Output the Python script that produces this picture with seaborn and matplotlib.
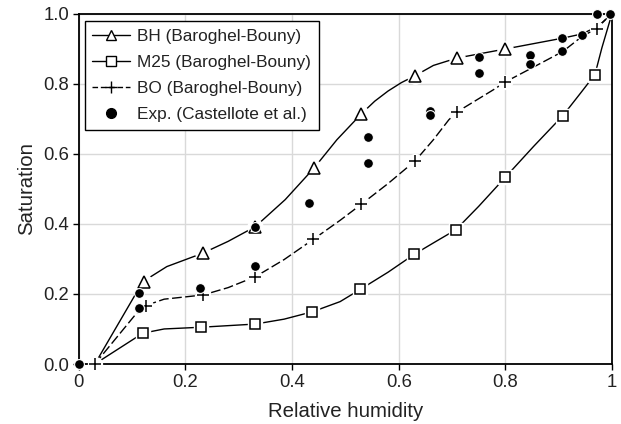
import numpy as np
import pandas as pd
import matplotlib
matplotlib.use("Agg")
import matplotlib.pyplot as plt
from matplotlib.lines import Line2D
import seaborn as sns

# -----------------------------
# Data
# -----------------------------
# smooth model curves (path points)
bh_line_x = [0.03, 0.12, 0.165, 0.232, 0.28, 0.331, 0.387, 0.441, 0.484, 0.53, 0.555, 0.58, 0.605, 0.631, 0.665, 0.709, 0.80, 0.908, 0.944, 0.975, 1.0]
bh_line_y = [0.0, 0.235, 0.278, 0.316, 0.35, 0.392, 0.469, 0.559, 0.64, 0.714, 0.75, 0.779, 0.803, 0.823, 0.852, 0.873, 0.899, 0.93, 0.942, 0.965, 1.0]

m25_line_x = [0.03, 0.12, 0.16, 0.23, 0.331, 0.385, 0.438, 0.49, 0.528, 0.58, 0.629, 0.67, 0.707, 0.75, 0.80, 0.853, 0.908, 0.941, 0.968, 0.981, 1.0]
m25_line_y = [0.0, 0.088, 0.100, 0.105, 0.114, 0.128, 0.149, 0.178, 0.213, 0.262, 0.313, 0.350, 0.383, 0.450, 0.533, 0.621, 0.709, 0.773, 0.826, 0.902, 1.0]

bo_line_x = [0.03, 0.118, 0.16, 0.233, 0.28, 0.331, 0.385, 0.44, 0.49, 0.53, 0.58, 0.631, 0.665, 0.694, 0.709, 0.778, 0.80, 0.85, 0.908, 0.944, 0.971, 0.988, 1.0]
bo_line_y = [0.0, 0.163, 0.185, 0.197, 0.218, 0.249, 0.298, 0.356, 0.41, 0.456, 0.515, 0.58, 0.64, 0.697, 0.719, 0.783, 0.805, 0.845, 0.892, 0.935, 0.957, 0.983, 1.0]

# marker positions
bh_mark_x = [0.122, 0.232, 0.331, 0.441, 0.530, 0.631, 0.709, 0.80]
bh_mark_y = [0.235, 0.316, 0.392, 0.559, 0.714, 0.823, 0.873, 0.899]

m25_mark_x = [0.120, 0.230, 0.331, 0.438, 0.528, 0.629, 0.707, 0.80, 0.908, 0.968]
m25_mark_y = [0.088, 0.105, 0.114, 0.149, 0.213, 0.313, 0.383, 0.533, 0.709, 0.826]

bo_mark_x = [0.031, 0.125, 0.233, 0.331, 0.44, 0.53, 0.631, 0.709, 0.80, 0.971]
bo_mark_y = [0.0, 0.166, 0.197, 0.249, 0.356, 0.456, 0.58, 0.719, 0.805, 0.957]

# experimental data (Castellote et al.)
exp_x = [0.0, 0.113, 0.113, 0.227, 0.331, 0.331, 0.431, 0.542, 0.542, 0.658, 0.658,
         0.751, 0.751, 0.847, 0.847, 0.907, 0.907, 0.944, 0.972, 0.997]
exp_y = [0.0, 0.204, 0.159, 0.216, 0.281, 0.392, 0.459, 0.649, 0.573, 0.722, 0.710,
         0.876, 0.829, 0.881, 0.857, 0.930, 0.892, 0.940, 1.0, 1.0]

x_ticks = [0, 0.2, 0.4, 0.6, 0.8, 1.0]
x_tick_labels = ["0", "0.2", "0.4", "0.6", "0.8", "1"]
y_ticks = [0.0, 0.2, 0.4, 0.6, 0.8, 1.0]
y_tick_labels = ["0.0", "0.2", "0.4", "0.6", "0.8", "1.0"]

labels = ["BH (Baroghel-Bouny)", "M25 (Baroghel-Bouny)", "BO (Baroghel-Bouny)", "Exp. (Castellote et al.)"]

# -----------------------------
# Style
# -----------------------------
sns.set_style("whitegrid")
plt.rcParams['font.family'] = ['Liberation Sans', 'DejaVu Sans']
TXT = "#222222"

fig = plt.figure(figsize=(6.21, 4.24), dpi=100)
ax = fig.add_axes([0.127, 0.1415, 0.8585, 0.8265])

# -----------------------------
# Lines
# -----------------------------
lw = 1.0
sns.lineplot(x=bh_line_x, y=bh_line_y, sort=False, ax=ax, color="black", lw=lw, zorder=3)
sns.lineplot(x=m25_line_x, y=m25_line_y, sort=False, ax=ax, color="black", lw=lw, zorder=3)
bo = sns.lineplot(x=bo_line_x, y=bo_line_y, sort=False, ax=ax, color="black", lw=lw, zorder=3)
bo.lines[-1].set_dashes((7, 2.5))

# white halos so lines break around markers
ax.plot(bh_mark_x, bh_mark_y, ls="none", marker="o", ms=11, mfc="white", mec="white", zorder=4)
ax.plot(m25_mark_x, m25_mark_y, ls="none", marker="s", ms=9.5, mfc="white", mec="white", zorder=4)
ax.plot(bo_mark_x, bo_mark_y, ls="none", marker="o", ms=10, mfc="white", mec="white", zorder=4,
        clip_on=False)

# markers
ax.plot(bh_mark_x, bh_mark_y, ls="none", marker="^", ms=8, mfc="white", mec="black", mew=1.1, zorder=5)
ax.plot(m25_mark_x, m25_mark_y, ls="none", marker="s", ms=7, mfc="white", mec="black", mew=1.1, zorder=5)
ax.plot(bo_mark_x, bo_mark_y, ls="none", marker="+", ms=9, mec="black", mew=1.1, zorder=5, clip_on=False)

# experimental points
sns.scatterplot(x=exp_x, y=exp_y, ax=ax, color="black", s=50, edgecolor="white", linewidth=0.8,
                zorder=6, clip_on=False)

# -----------------------------
# Axes
# -----------------------------
ax.set_xlim(0, 1)
ax.set_ylim(0, 1)
ax.set_xticks(x_ticks)
ax.set_xticklabels(x_tick_labels)
ax.set_yticks(y_ticks)
ax.set_yticklabels(y_tick_labels)
ax.grid(True, color="#d9d9d9", lw=1.0)
ax.set_axisbelow(True)
for sp in ax.spines.values():
    sp.set_color("black")
    sp.set_linewidth(1.3)
ax.tick_params(axis="both", direction="out", length=4, width=1.0, color="black",
               labelsize=13.3, labelcolor=TXT, pad=3, bottom=True, left=True)

ax.set_xlabel("Relative humidity", fontsize=14.7, color=TXT, labelpad=8)
ax.set_ylabel("Saturation", fontsize=14.7, color=TXT, labelpad=5)

# -----------------------------
# Legend
# -----------------------------
handles = [
    Line2D([], [], color="black", lw=lw, marker="^", ms=7, mfc="white", mec="black"),
    Line2D([], [], color="black", lw=lw, marker="s", ms=6.5, mfc="white", mec="black"),
    Line2D([], [], color="black", lw=lw, marker="+", ms=8, dashes=(4, 2)),
    Line2D([], [], ls="none", marker="o", ms=7, color="black"),
]
leg = ax.legend(handles, labels, loc="upper left", bbox_to_anchor=(0.011, 0.979), borderaxespad=0,
                frameon=True, fancybox=False, shadow=False, framealpha=1,
                edgecolor="black", fontsize=12.4, handlelength=2.2, handletextpad=0.4,
                borderpad=0.45, labelspacing=0.65)
leg.get_frame().set_linewidth(1.0)
for t in leg.get_texts():
    t.set_color(TXT)

fig.savefig("out.png", dpi=100)
